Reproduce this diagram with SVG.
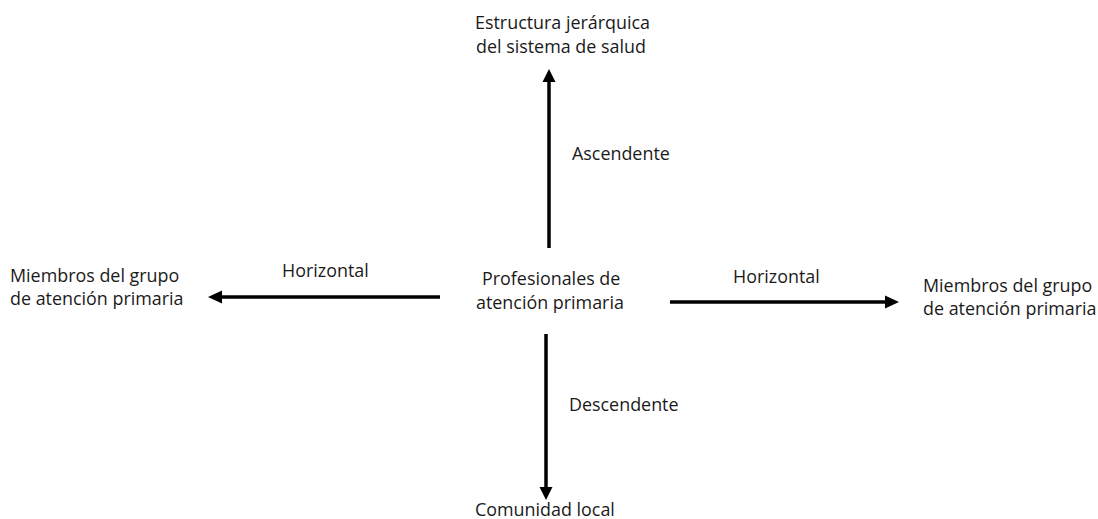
<svg xmlns="http://www.w3.org/2000/svg" width="1098" height="519" viewBox="0 0 1098 519">
<style>
text{font-family:"Open Sans","Liberation Sans",sans-serif;font-size:17.9px;fill:#1a1a1a}
.c{stroke:#000;stroke-width:3.5;fill:none}
.h{fill:#000}
</style>
<rect width="1098" height="519" fill="#fff"/>
<g id="connectors">
<line class="c" x1="549" y1="248" x2="549" y2="80"/>
<polygon class="h" points="549,69 555.5,82 542.5,82"/>
<line class="c" x1="440" y1="297" x2="220" y2="297"/>
<polygon class="h" points="208,297 222,290.5 222,303.5"/>
<line class="c" x1="670" y1="302" x2="888" y2="302"/>
<polygon class="h" points="899,302 885,295.5 885,308.5"/>
<line class="c" x1="546" y1="334" x2="546" y2="489"/>
<polygon class="h" points="546,500 539.5,487 552.5,487"/>
<text x="572" y="160">Ascendente</text>
<text x="282" y="277">Horizontal</text>
<text x="733" y="283">Horizontal</text>
<text x="569" y="411">Descendente</text>
</g>
<g id="node-top">
<text x="475" y="29">Estructura jerárquica</text>
<text x="476" y="53">del sistema de salud</text>
</g>
<g id="node-center">
<text x="482" y="285">Profesionales de</text>
<text x="476" y="309">atención primaria</text>
</g>
<g id="node-left">
<text x="10" y="282">Miembros del grupo</text>
<text x="10" y="305">de atención primaria</text>
</g>
<g id="node-right">
<text x="923" y="292">Miembros del grupo</text>
<text x="923" y="315">de atención primaria</text>
</g>
<g id="node-bottom">
<text x="475" y="516">Comunidad local</text>
</g>
</svg>
